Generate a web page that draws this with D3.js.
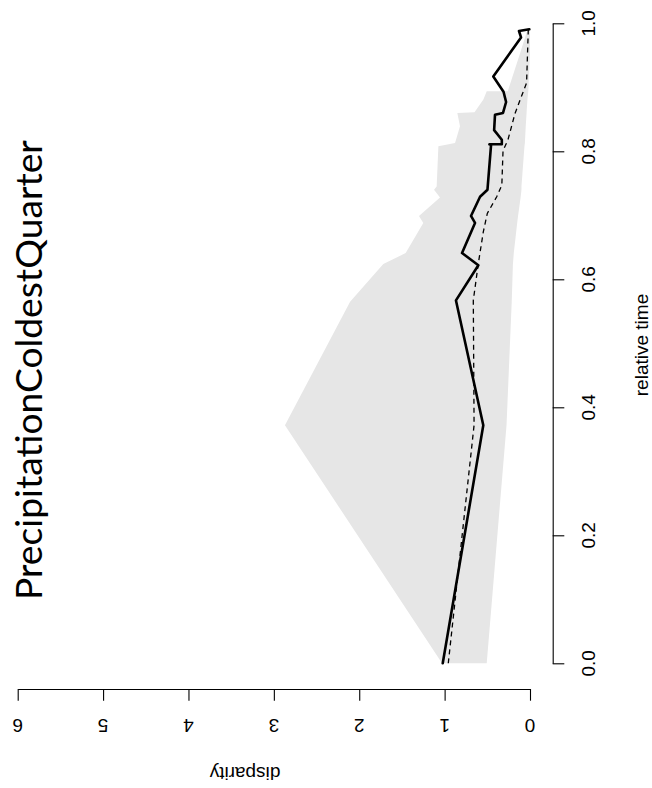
<!DOCTYPE html>
<html>
<head>
<meta charset="utf-8">
<script src="https://cdn.jsdelivr.net/npm/d3@7"></script>
<style>
  html, body { margin: 0; padding: 0; background: #fff; }
  svg { display: block; }
</style>
</head>
<body>
<script>
// ---- data ----
const chartTitle = "PrecipitationColdestQuarter";
const timeTicks = [0, 0.2, 0.4, 0.6, 0.8, 1.0];
const disparityTicks = [0, 1, 2, 3, 4, 5, 6];

const bandTime  = [0, 0.372, 0.565, 0.624, 0.641, 0.688, 0.699, 0.728, 0.740, 0.745, 0.808, 0.813, 0.839, 0.860, 0.861, 0.881, 0.894, 0.894, 0.953, 0.99];
const bandUpper = [1.03, 2.87, 2.107, 1.718, 1.456, 1.25, 1.30, 1.054, 1.124, 1.093, 1.073, 0.878, 0.820, 0.851, 0.65, 0.546, 0.507, 0.26, 0.117, 0.03];
const bandLower = [0.507, 0.275, 0.214, 0.20, 0.19, 0.15, 0.14, 0.11, 0.10, 0.10, 0.065, 0.06, 0.05, 0.04, 0.04, 0.03, 0.02, 0.02, 0.0, 0.0];

const obsTime = [0, 0.372, 0.567, 0.622, 0.641, 0.688, 0.699, 0.729, 0.740, 0.810, 0.811, 0.811, 0.818, 0.833, 0.857, 0.860, 0.877, 0.893, 0.917, 0.978, 0.988, 0.9906];
const obsValue = [1.022, 0.547, 0.867, 0.605, 0.796, 0.644, 0.691, 0.585, 0.498, 0.456, 0.475, 0.33, 0.33, 0.42, 0.41, 0.316, 0.28, 0.31, 0.43, 0.105, 0.129, 0.008];

const nullTime = [0, 0.372, 0.567, 0.625, 0.674, 0.703, 0.729, 0.747, 0.801, 0.818, 0.859, 0.907, 0.99];
const nullValue = [0.957, 0.655, 0.664, 0.605, 0.547, 0.5, 0.39, 0.33, 0.316, 0.258, 0.176, 0.04, 0.02];

// ---- layout ----
const W = 652, H = 788;
const svg = d3.select("body").append("svg").attr("width", W).attr("height", H);
svg.append("rect").attr("width", W).attr("height", H).attr("fill", "#fff");

const yT = d3.scaleLinear().domain([0, 1]).range([663.3, 23.3]);     // relative time (vertical)
const xD = d3.scaleLinear().domain([0, 6]).range([530, 17.7]);       // disparity (horizontal, reversed)

const band = bandTime.map((t, i) => ({t, lo: bandLower[i], hi: bandUpper[i]}));
const obs = obsTime.map((t, i) => ({t, v: obsValue[i]}));
const nul = nullTime.map((t, i) => ({t, v: nullValue[i]}));

svg.append("path")
  .datum(band)
  .attr("fill", "#e6e6e6")
  .attr("stroke", "none")
  .attr("d", d3.area().y(d => yT(d.t)).x0(d => xD(d.lo)).x1(d => xD(d.hi)));

const line = d3.line().x(d => xD(d.v)).y(d => yT(d.t));

svg.append("path")
  .datum(nul)
  .attr("fill", "none")
  .attr("stroke", "#000")
  .attr("stroke-width", 1.3)
  .attr("stroke-dasharray", "5,4")
  .attr("d", line);

svg.append("path")
  .datum(obs)
  .attr("fill", "none")
  .attr("stroke", "#000")
  .attr("stroke-width", 2.6)
  .attr("stroke-linejoin", "round")
  .attr("stroke-linecap", "round")
  .attr("d", line);

// ---- axes ----
const font = "'Liberation Sans', Arial, Helvetica, sans-serif";
const fs = 19;

const tAxis = svg.append("g")
  .attr("transform", "translate(552.7,0)")
  .call(d3.axisRight(yT).tickValues(timeTicks).tickSize(11.6).tickSizeOuter(0).tickFormat(""));
const dAxis = svg.append("g")
  .attr("transform", "translate(0,689)")
  .call(d3.axisBottom(xD).tickValues(disparityTicks).tickSize(11.7).tickSizeOuter(0).tickFormat(""));
[tAxis, dAxis].forEach(a => {
  a.selectAll("path, line").attr("stroke", "#000").attr("stroke-width", 1.1);
  a.selectAll("text").remove();
});

svg.append("g").selectAll("text").data(timeTicks).join("text")
  .attr("transform", d => `translate(595,${yT(d)}) rotate(-90)`)
  .attr("text-anchor", "middle")
  .attr("font-family", font).attr("font-size", fs)
  .text(d3.format(".1f"));

svg.append("g").selectAll("text").data(disparityTicks).join("text")
  .attr("transform", d => `translate(${xD(d)},719) rotate(180)`)
  .attr("text-anchor", "middle")
  .attr("font-family", font).attr("font-size", fs)
  .text(d => d);

svg.append("text")
  .attr("transform", "translate(648,345) rotate(-90)")
  .attr("text-anchor", "middle")
  .attr("font-family", font).attr("font-size", fs)
  .text("relative time");

svg.append("text")
  .attr("transform", "translate(245,767) rotate(180)")
  .attr("text-anchor", "middle")
  .attr("font-family", font).attr("font-size", fs)
  .text("disparity");

const title = svg.append("text")
  .attr("transform", "translate(42,370) rotate(-90)")
  .attr("text-anchor", "middle")
  .attr("font-family", "'Lato', 'Open Sans', sans-serif")
  .attr("font-size", 37.5)
  .text(chartTitle);
const len = title.node().getComputedTextLength();
if (len > 0) title.attr("font-size", 37.5 * 460 / len);
</script>
</body>
</html>
